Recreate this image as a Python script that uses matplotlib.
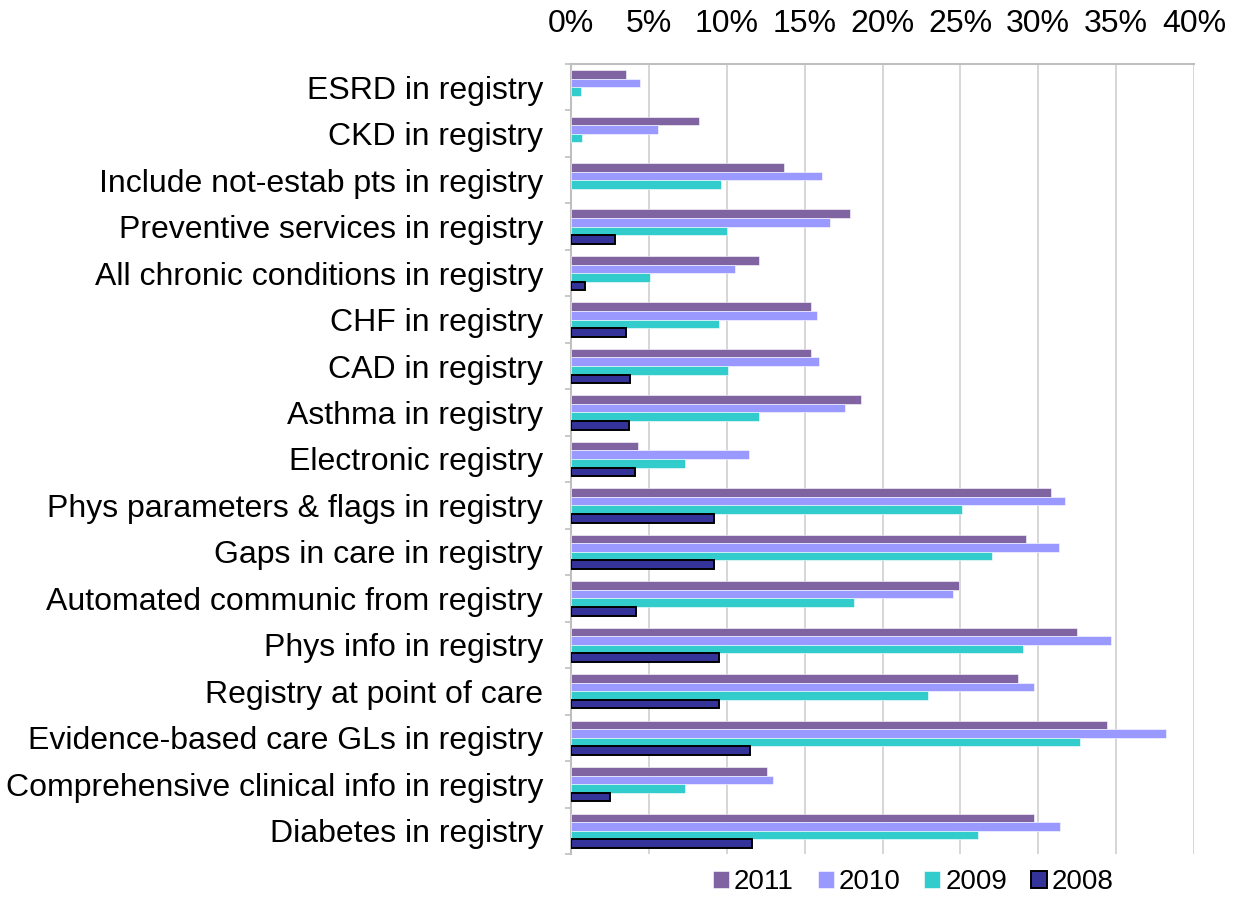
"""
Registry features by year, grouped horizontal bars (percent of practices).
"""

import numpy as np
import matplotlib
matplotlib.use('Agg')
import matplotlib.pyplot as plt
from matplotlib.ticker import MultipleLocator, FixedLocator, PercentFormatter

CATEGORIES = ['ESRD in registry', 'CKD in registry',
              'Include not-estab pts in registry',
              'Preventive services in registry',
              'All chronic conditions in registry', 'CHF in registry',
              'CAD in registry', 'Asthma in registry', 'Electronic registry',
              'Phys parameters & flags in registry',
              'Gaps in care in registry',
              'Automated communic from registry', 'Phys info in registry',
              'Registry at point of care',
              'Evidence-based care GLs in registry',
              'Comprehensive clinical info in registry',
              'Diabetes in registry']
YEARS = ['2011', '2010', '2009', '2008']
V2011 = [3.5, 8.2, 13.7, 17.9, 12.1, 15.4, 15.4, 18.6, 4.3, 30.8, 29.2,
         24.9, 32.5, 28.7, 34.4, 12.6, 29.7]
V2010 = [4.4, 5.6, 16.1, 16.6, 10.5, 15.8, 15.9, 17.6, 11.4, 31.7, 31.3,
         24.5, 34.7, 29.7, 38.2, 13.0, 31.4]
V2009 = [0.65, 0.7, 9.6, 10.0, 5.1, 9.5, 10.1, 12.1, 7.3, 25.1, 27.0,
         18.2, 29.0, 22.9, 32.7, 7.3, 26.1]
V2008 = [0, 0, 0, 2.8, 0.9, 3.5, 3.8, 3.7, 4.1, 9.2, 9.2, 4.2, 9.5, 9.5,
         11.5, 2.5, 11.6]
COLORS = ['#8064A2', '#9999FF', '#33CCCC', '#333399']

FONT = 23
GRAY = '#BFBFBF'


def main():
    plt.rcParams['font.family'] = ['Liberation Sans', 'DejaVu Sans']
    plt.rcParams['font.size'] = FONT

    fig = plt.figure(figsize=(12.33, 8.97), dpi=100)
    ax = fig.add_axes([0.4631, 0.0477, 0.9684 - 0.4631, 0.9289 - 0.0477])

    series = [V2011, V2010, V2009, V2008]
    n = len(CATEGORIES)
    y = np.arange(n)
    h = 0.183
    for i, (vals, year, col) in enumerate(zip(series, YEARS, COLORS)):
        vals = np.asarray(vals, dtype=float)
        keep = vals > 0  # empty cells get no bar at all
        pos = y[keep] + (i - 1.5) * h
        if year == '2008':
            ax.barh(pos, vals[keep], height=h, color=col, edgecolor='black',
                    linewidth=1.4, label=year, zorder=3)
        else:
            ax.barh(pos, vals[keep], height=h, color=col, edgecolor='white',
                    linewidth=0.4, label=year, zorder=3)

    ax.set_ylim(n - 0.5, -0.5)
    ax.set_xlim(0, 40)

    # x axis on top
    ax.xaxis.tick_top()
    ax.xaxis.set_major_locator(MultipleLocator(5))
    ax.xaxis.set_major_formatter(PercentFormatter(decimals=0))
    ax.tick_params(axis='x', length=0, pad=18)
    ax.grid(axis='x', color='#D0D0D0', linewidth=1.2, zorder=0)

    # categories
    ax.set_yticks(y)
    ax.set_yticklabels(CATEGORIES)
    ax.yaxis.set_minor_locator(FixedLocator(np.arange(n + 1) - 0.5))
    ax.tick_params(axis='y', which='major', length=0, pad=20)
    ax.tick_params(axis='y', which='minor', length=4.5, width=1.2,
                   color=GRAY)

    for side in ['right', 'bottom']:
        ax.spines[side].set_visible(False)
    for side in ['left', 'top']:
        ax.spines[side].set_color(GRAY)
        ax.spines[side].set_linewidth(1.5)

    fig.legend(loc='center', bbox_to_anchor=(913.5 / 1233, 1 - 882 / 897),
               ncol=4, frameon=False, fontsize=20, handlelength=0.57,
               handleheight=0.57, handletextpad=0.18, columnspacing=0.86,
               borderpad=0)

    fig.savefig('out.png', dpi=100)
    plt.close()


if __name__ == '__main__':
    main()
